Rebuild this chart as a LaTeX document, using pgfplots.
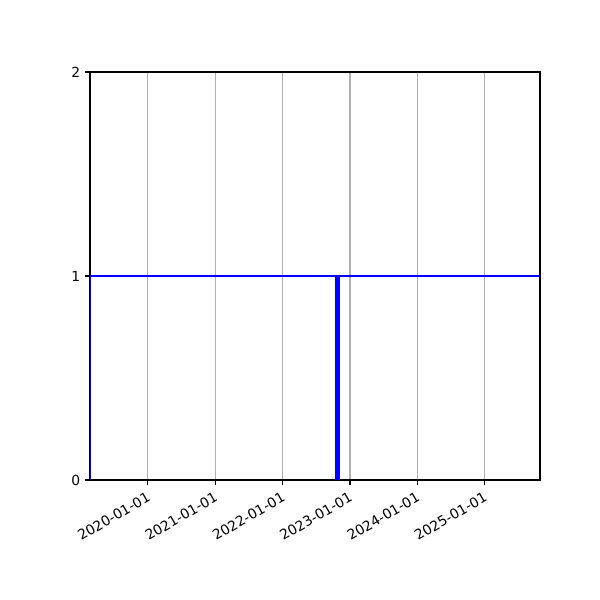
\documentclass[border=0pt]{standalone}
\usepackage{pgfplots}
\pgfplotsset{compat=1.18}
\usepackage{fontspec}
\setmainfont{DejaVu Sans}
\begin{document}
\begin{tikzpicture}
% 1px = 0.72pt, the page is 600x600 px
\path[use as bounding box] (-64.8pt,-86.4pt) rectangle (367.2pt,345.6pt);
\begin{axis}[
  at={(0,0)}, anchor=origin,
  scale only axis,
  width=324pt, height=293.76pt,
  xmin=2019.14, xmax=2025.82,
  ymin=0, ymax=2,
  xtick={2020,2021,2022,2023,2024,2025},
  xticklabels={2020-01-01,2021-01-01,2022-01-01,2023-01-01,2024-01-01,2025-01-01},
  x tick label style={rotate=30, anchor=north east, font=\fontsize{10}{12}\selectfont},
  ytick={0,1,2},
  y tick label style={font=\fontsize{10}{12}\selectfont},
  /pgf/number format/assume math mode=true,
  tick align=outside,
  major tick length=3.5pt,
  tick style={black, line width=0.8pt},
  xtick pos=bottom, ytick pos=left,
  axis line style={line width=0.8pt},
  xmajorgrids,
  grid style={color=black!31, line width=0.8pt},
  clip=true,
]
% level series (starts at 0 on the left edge, then holds at 1)
\addplot[blue, line width=1.5pt] coordinates {
  (2019.14,0) (2019.14,1) (2025.82,1)
};
% single spike
\addplot[blue, line width=3pt, ycomb, mark=none] coordinates {
  (2022.815,1)
};
\end{axis}
\end{tikzpicture}
\end{document}
